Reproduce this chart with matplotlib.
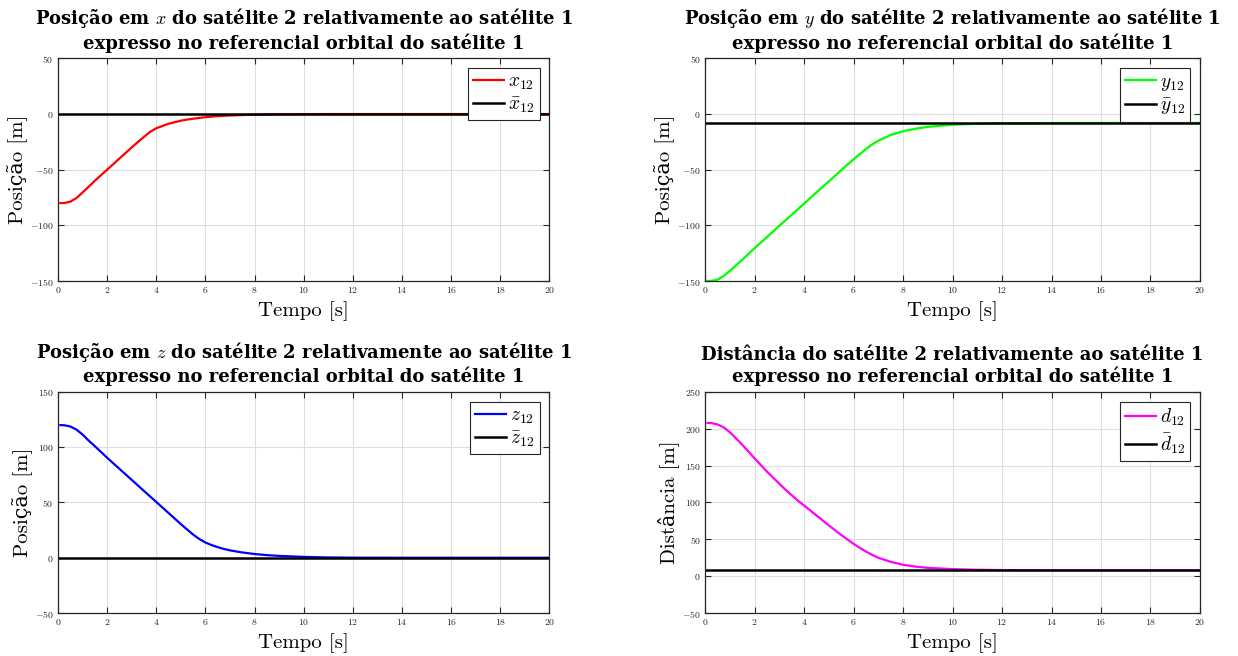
import matplotlib
matplotlib.use("Agg")
import matplotlib.pyplot as plt

# tempo de simulação [s]
t = [0.1, 0.25, 0.5, 0.75, 1, 1.25, 1.5, 2, 2.5, 3, 3.25, 3.5, 3.75, 4, 4.5,
     5, 5.25, 5.5, 5.75, 6, 6.25, 6.5, 6.75, 7, 7.5, 8, 8.5, 9, 10, 11, 12, 14, 20]

x12 = [-80, -79.9, -78.8, -75.5, -70.5, -65.3, -60, -50, -40, -30, -25.2, -20.5,
       -16, -12.8, -8.7, -6.0, -5.0, -4.2, -3.5, -2.8, -2.3, -1.9, -1.6, -1.3,
       -0.9, -0.6, -0.4, -0.25, -0.1, 0, 0, 0, 0]
y12 = [-150, -149.9, -148.8, -145.5, -141, -136, -131, -120.5, -110.5, -100.5,
       -95.5, -90.5, -85.5, -80.5, -70.5, -60.5, -55.5, -50.5, -45.5, -40.8,
       -36, -31.5, -27.3, -24, -18.8, -15.5, -13.2, -11.5, -9.6, -8.7, -8.3, -8.05, -8]
z12 = [120, 119.9, 118.8, 116, 111.5, 106, 101, 90.5, 80.5, 70.5, 65.5, 60.5,
       55.5, 50.5, 40.5, 30.5, 25.7, 21, 17, 13.8, 11.5, 9.6, 8, 6.7, 4.8, 3.4,
       2.4, 1.7, 0.8, 0.3, 0.1, 0, 0]
d12 = [208, 207.8, 206, 202, 195.5, 187, 178.5, 160, 142, 125.5, 117.5, 110,
       102.5, 96, 82.5, 69, 62.5, 56, 50, 44, 38.5, 33.5, 29, 25, 19.5, 15.5,
       13, 11.3, 9.6, 8.7, 8.3, 8.05, 8]

# referências
x12_ref = 0
y12_ref = -8
z12_ref = 0
d12_ref = 8

plt.rcParams["mathtext.fontset"] = "cm"
plt.rcParams["font.family"] = ["cmr10", "DejaVu Serif"]
plt.rcParams["axes.unicode_minus"] = False
plt.rcParams["axes.formatter.use_mathtext"] = True

sub = "do satélite 2 relativamente ao satélite 1\nexpresso no referencial orbital do satélite 1"

paineis = [
    (t, x12, x12_ref, "red", "x", "Posição em $x$ " + sub, "Posição [m]", (-150, 50), 50),
    (t, y12, y12_ref, "#00ff00", "y", "Posição em $y$ " + sub, "Posição [m]", (-150, 50), 50),
    (t, z12, z12_ref, "blue", "z", "Posição em $z$ " + sub, "Posição [m]", (-50, 150), 50),
    (t, d12, d12_ref, "magenta", "d", "Distância " + sub, "Distância [m]", (-50, 250), 50),
]

pos = [
    [0.0468, 0.5716, 0.3970, 0.3394],
    [0.5695, 0.5716, 0.3998, 0.3394],
    [0.0468, 0.0655, 0.3970, 0.3370],
    [0.5695, 0.0655, 0.3998, 0.3370],
]

fig = plt.figure(figsize=(12.38, 6.56), dpi=100)
for p, (tt, v, ref, cor, s, titulo, ylab, ylim, passo) in zip(pos, paineis):
    ax = fig.add_axes(p)
    ax.plot(tt, v, color=cor, lw=1.6, label=r"$%s_{12}$" % s)
    ax.plot([0, 20], [ref, ref], color="black", lw=1.8, label=r"$\bar{%s}_{12}$" % s)
    ax.set_xlim(0, 20)
    ax.set_ylim(*ylim)
    ax.set_xticks(range(0, 21, 2))
    ax.set_yticks(range(ylim[0], ylim[1] + 1, passo))
    ax.grid(True, color="#dedede", lw=0.8)
    ax.set_axisbelow(True)
    ax.tick_params(direction="in", top=True, right=True, labelsize=7,
                   length=4, width=0.8, colors="#262626", pad=3)
    for sp in ax.spines.values():
        sp.set_linewidth(0.9)
        sp.set_color("#262626")
    ax.set_xlabel("Tempo [s]", fontsize=15, labelpad=4)
    ax.set_ylabel(ylab, fontsize=15, labelpad=2)
    ax.set_title(titulo, fontsize=13, family="DejaVu Serif", weight="bold",
                 linespacing=1.2, pad=7)
    leg = ax.legend(loc="upper right", fontsize=14, fancybox=False,
                    framealpha=1, edgecolor="#262626", handlelength=1.6,
                    handletextpad=0.2, borderpad=0.25, labelspacing=0.2,
                    borderaxespad=0.5)
    leg.get_frame().set_linewidth(0.8)

fig.savefig("out.png", dpi=100)
